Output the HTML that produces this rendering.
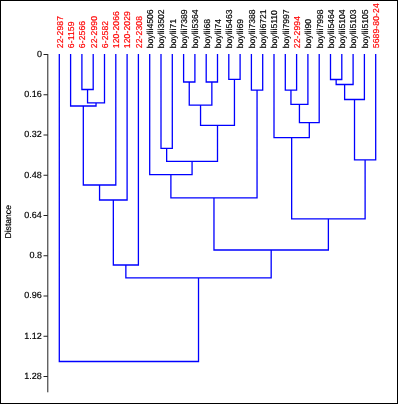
<!DOCTYPE html>
<html><head><meta charset="utf-8"><style>
html,body{margin:0;padding:0;background:#fff;}
svg{display:block;will-change:transform;}
text{font-family:"Liberation Sans",sans-serif;text-rendering:geometricPrecision;}
.tk{font-size:9px;fill:#000;stroke:#000;stroke-width:0.18px;}
.lb{font-size:8.6px;fill:#000;stroke:#000;stroke-width:0.18px;}
.r{fill:#f00;stroke:#f00;letter-spacing:0.1px;}
.dl{font-size:8.6px;fill:#000;stroke:#000;stroke-width:0.18px;}
</style></head><body>
<svg width="398" height="404" viewBox="0 0 398 404">
<rect x="0.5" y="0.5" width="397" height="403" fill="#fff" stroke="#000" stroke-width="1"/>
<path d="M81.90 54.00V89.50H93.20V54.00 M87.55 89.50V102.80H104.50V54.00 M70.60 54.00V106.00H96.03V102.80 M83.31 106.00V185.00H115.80V54.00 M99.56 185.00V200.00H127.10V54.00 M113.33 200.00V265.00H138.40V54.00 M183.60 54.00V82.00H194.90V54.00 M206.20 54.00V82.00H217.50V54.00 M228.80 54.00V79.40H240.10V54.00 M189.25 82.00V105.20H211.85V82.00 M200.55 105.20V125.40H234.45V79.40 M161.00 54.00V148.30H172.30V54.00 M166.65 148.30V161.40H217.50V125.40 M149.70 54.00V174.70H192.07V161.40 M251.40 54.00V90.10H262.70V54.00 M170.89 174.70V197.80H257.05V90.10 M285.30 54.00V90.10H296.60V54.00 M290.95 90.10V104.30H307.90V54.00 M299.43 104.30V122.60H319.20V54.00 M274.00 54.00V137.70H309.31V122.60 M330.50 54.00V79.50H341.80V54.00 M336.15 79.50V84.50H353.10V54.00 M344.62 84.50V99.50H364.40V54.00 M354.51 99.50V159.80H375.70V54.00 M291.66 137.70V218.90H365.11V159.80 M213.97 197.80V250.00H328.38V218.90 M125.86 265.00V277.80H271.18V250.00 M59.30 54.00V361.50H198.52V277.80" stroke="#0000ff" stroke-width="1.3" fill="none" stroke-linejoin="miter"/>
<path d="M47.80 54.00L47.80 392.30 M43.50 54.50L47.80 54.50 M43.50 94.75L47.80 94.75 M43.50 135.00L47.80 135.00 M43.50 175.25L47.80 175.25 M43.50 215.50L47.80 215.50 M43.50 255.75L47.80 255.75 M43.50 296.00L47.80 296.00 M43.50 336.25L47.80 336.25 M43.50 376.50L47.80 376.50" stroke="#222" stroke-width="1" fill="none"/>
<text x="41.9" y="56.80" text-anchor="end" class="tk">0</text>
<text x="41.9" y="97.05" text-anchor="end" class="tk">0.16</text>
<text x="41.9" y="137.30" text-anchor="end" class="tk">0.32</text>
<text x="41.9" y="177.55" text-anchor="end" class="tk">0.48</text>
<text x="41.9" y="217.80" text-anchor="end" class="tk">0.64</text>
<text x="41.9" y="258.05" text-anchor="end" class="tk">0.8</text>
<text x="41.9" y="298.30" text-anchor="end" class="tk">0.96</text>
<text x="41.9" y="338.55" text-anchor="end" class="tk">1.12</text>
<text x="41.9" y="378.80" text-anchor="end" class="tk">1.28</text>
<text transform="translate(62.60 48.2) rotate(-90)" class="lb r">22-2987</text>
<text transform="translate(73.90 48.2) rotate(-90)" class="lb r">6-1159</text>
<text transform="translate(85.20 48.2) rotate(-90)" class="lb r">6-2566</text>
<text transform="translate(96.50 48.2) rotate(-90)" class="lb r">22-2990</text>
<text transform="translate(107.80 48.2) rotate(-90)" class="lb r">6-2582</text>
<text transform="translate(119.10 48.2) rotate(-90)" class="lb r">120-2066</text>
<text transform="translate(130.40 48.2) rotate(-90)" class="lb r">120-2029</text>
<text transform="translate(141.70 48.2) rotate(-90)" class="lb r">22-2308</text>
<text transform="translate(153.00 48.2) rotate(-90)" class="lb">boy<tspan letter-spacing="0">lii</tspan>4506</text>
<text transform="translate(164.30 48.2) rotate(-90)" class="lb">boy<tspan letter-spacing="0">lii</tspan>3502</text>
<text transform="translate(175.60 48.2) rotate(-90)" class="lb">boy<tspan letter-spacing="0">lii</tspan>71</text>
<text transform="translate(186.90 48.2) rotate(-90)" class="lb">boy<tspan letter-spacing="0">lii</tspan>7389</text>
<text transform="translate(198.20 48.2) rotate(-90)" class="lb">boy<tspan letter-spacing="0">lii</tspan>5364</text>
<text transform="translate(209.50 48.2) rotate(-90)" class="lb">boy<tspan letter-spacing="0">lii</tspan>68</text>
<text transform="translate(220.80 48.2) rotate(-90)" class="lb">boy<tspan letter-spacing="0">lii</tspan>74</text>
<text transform="translate(232.10 48.2) rotate(-90)" class="lb">boy<tspan letter-spacing="0">lii</tspan>5463</text>
<text transform="translate(243.40 48.2) rotate(-90)" class="lb">boy<tspan letter-spacing="0">lii</tspan>69</text>
<text transform="translate(254.70 48.2) rotate(-90)" class="lb">boy<tspan letter-spacing="0">lii</tspan>7388</text>
<text transform="translate(266.00 48.2) rotate(-90)" class="lb">boy<tspan letter-spacing="0">lii</tspan>6721</text>
<text transform="translate(277.30 48.2) rotate(-90)" class="lb">boy<tspan letter-spacing="0">lii</tspan>5110</text>
<text transform="translate(288.60 48.2) rotate(-90)" class="lb">boy<tspan letter-spacing="0">lii</tspan>7997</text>
<text transform="translate(299.90 48.2) rotate(-90)" class="lb r">22-2994</text>
<text transform="translate(311.20 48.2) rotate(-90)" class="lb">boy<tspan letter-spacing="0">lii</tspan>90</text>
<text transform="translate(322.50 48.2) rotate(-90)" class="lb">boy<tspan letter-spacing="0">lii</tspan>7998</text>
<text transform="translate(333.80 48.2) rotate(-90)" class="lb">boy<tspan letter-spacing="0">lii</tspan>5464</text>
<text transform="translate(345.10 48.2) rotate(-90)" class="lb">boy<tspan letter-spacing="0">lii</tspan>5104</text>
<text transform="translate(356.40 48.2) rotate(-90)" class="lb">boy<tspan letter-spacing="0">lii</tspan>5103</text>
<text transform="translate(367.70 48.2) rotate(-90)" class="lb">boy<tspan letter-spacing="0">lii</tspan>5105</text>
<text transform="translate(379.00 48.2) rotate(-90)" class="lb r">5689-80-24</text>
<text transform="translate(11 238.5) rotate(-90)" class="dl">Distance</text>
</svg>
</body></html>
